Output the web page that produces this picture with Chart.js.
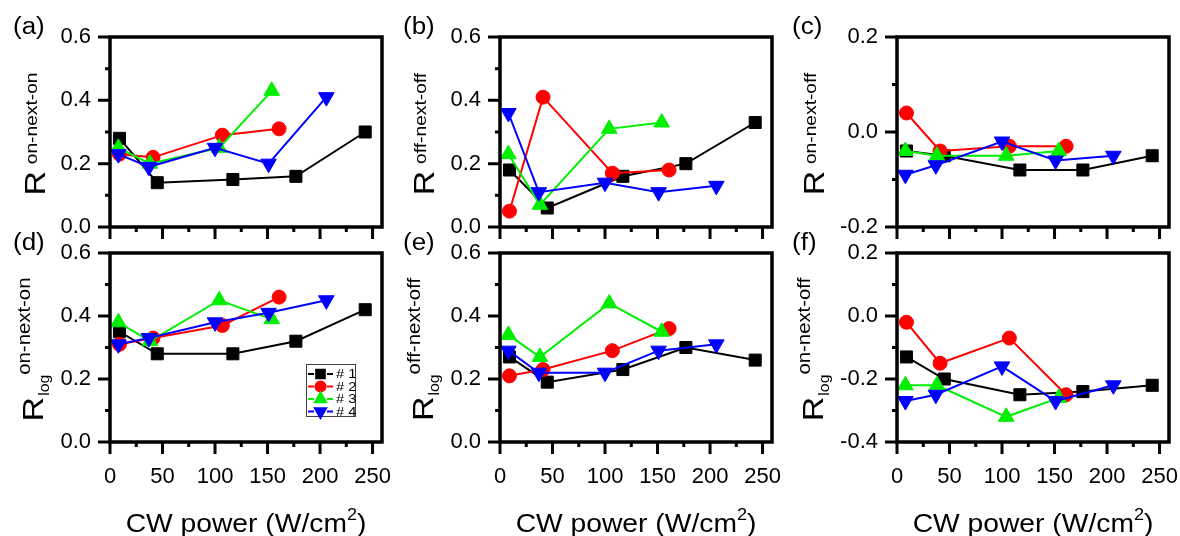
<!DOCTYPE html>
<html>
<head>
<meta charset="utf-8">
<script src="https://cdn.jsdelivr.net/npm/chart.js@4.4.1/dist/chart.umd.min.js"></script>
<style>
  html, body { margin: 0; padding: 0; background: #fff; }
  #wrap { position: relative; width: 1180px; height: 536px; overflow: hidden; }
  #wrap canvas { position: absolute; left: 0; top: 0; }
</style>
</head>
<body>
<div id="wrap">
  <canvas id="pa" width="1180" height="536"></canvas>
  <canvas id="pb" width="1180" height="536"></canvas>
  <canvas id="pc" width="1180" height="536"></canvas>
  <canvas id="pd" width="1180" height="536"></canvas>
  <canvas id="pe" width="1180" height="536"></canvas>
  <canvas id="pf" width="1180" height="536"></canvas>
</div>
<script>
// CW power (W/cm2) for each sample
const sampleNames = ["# 1", "# 2", "# 3", "# 4"];
const powerS1 = [9, 45, 117, 177, 243];
const powerS2 = [9, 41, 107, 161];
const powerS3 = [8, 38, 104, 154];
const powerS4 = [8, 37, 100, 151, 206];

// (a) R on-next-on
const aS1 = [0.28, 0.14, 0.15, 0.16, 0.30];
const aS2 = [0.23, 0.22, 0.29, 0.31];
const aS3 = [0.25, 0.20, 0.25, 0.43];
const aS4 = [0.23, 0.19, 0.25, 0.20, 0.41];
// (b) R off-next-off
const bS1 = [0.18, 0.06, 0.16, 0.20, 0.33];
const bS2 = [0.05, 0.41, 0.17, 0.18];
const bS3 = [0.23, 0.07, 0.31, 0.33];
const bS4 = [0.36, 0.11, 0.14, 0.11, 0.13];
// (c) R on-next-off
const cS1 = [-0.04, -0.05, -0.08, -0.08, -0.05];
const cS2 = [0.04, -0.04, -0.03, -0.03];
const cS3 = [-0.04, -0.05, -0.05, -0.04];
const cS4 = [-0.09, -0.07, -0.02, -0.06, -0.05];
// (d) Rlog on-next-on
const dS1 = [0.35, 0.28, 0.28, 0.32, 0.42];
const dS2 = [0.31, 0.33, 0.37, 0.46];
const dS3 = [0.38, 0.32, 0.45, 0.39];
const dS4 = [0.31, 0.33, 0.38, 0.41, 0.45];
// (e) Rlog off-next-off
const eS1 = [0.27, 0.19, 0.23, 0.30, 0.26];
const eS2 = [0.21, 0.23, 0.29, 0.36];
const eS3 = [0.34, 0.27, 0.44, 0.35];
const eS4 = [0.29, 0.22, 0.22, 0.29, 0.31];
// (f) Rlog on-next-off
const fS1 = [-0.13, -0.20, -0.25, -0.24, -0.22];
const fS2 = [-0.02, -0.15, -0.07, -0.25];
const fS3 = [-0.22, -0.22, -0.32, -0.26];
const fS4 = [-0.27, -0.25, -0.16, -0.27, -0.22];

const xMajor = [0, 50, 100, 150, 200, 250];
const xMinor = [25, 75, 125, 175, 225];
const yMajorPos = [0, 0.2, 0.4, 0.6];
const yMinorPos = [0.1, 0.3, 0.5];
const yMajorC = [-0.2, 0, 0.2];
const yMinorC = [-0.1, 0.1];
const yMajorF = [-0.4, -0.2, 0, 0.2];
const yMinorF = [-0.3, -0.1, 0.1];

const FONT = '"Liberation Sans", Arial, sans-serif';
const STRETCH = 1.13;

const styles = [
  { color: "#000000", pointStyle: "rect", radius: 8.5, rotation: 0 },
  { color: "#ff0000", pointStyle: "circle", radius: 7, rotation: 0 },
  { color: "#00ee00", pointStyle: "triangle", radius: 9, rotation: 0 },
  { color: "#0000ff", pointStyle: "triangle", radius: 9, rotation: 180 },
];
const powers = [powerS1, powerS2, powerS3, powerS4];

function tickLabel(v) {
  if (Math.abs(v) < 1e-9) return "0.0";
  return v.toFixed(1);
}

function drawStretched(ctx, text, x, y, size) {
  ctx.save();
  ctx.translate(x, y);
  ctx.scale(STRETCH, 1);
  ctx.font = `${size}px ${FONT}`;
  ctx.fillText(text, 0, 0);
  ctx.restore();
}

// rotated y-axis title: R, optional "log" subscript, superscript label
function drawYTitle(ctx, o, chartArea) {
  ctx.save();
  const parts = [{ text: "R", size: 30, dy: 0, gap: 0 }];
  if (o.log) {
    parts.push({ text: "log", size: 14, dy: 6, gap: 1 });
    parts.push({ text: o.sup, size: 18, dy: -13, gap: 0 });
  } else {
    parts.push({ text: o.sup, size: 17, dy: -8, gap: 6 });
  }
  let total = 0;
  parts.forEach((p) => {
    ctx.font = `${p.size}px ${FONT}`;
    p.w = ctx.measureText(p.text).width;
    p.tx = total + p.gap;
    total = p.tx + p.w;
  });
  const cy = (chartArea.top + chartArea.bottom) / 2 + 2;
  ctx.translate(o.titleX, cy + (total * STRETCH) / 2);
  ctx.rotate(-Math.PI / 2);
  ctx.scale(STRETCH, 1);
  ctx.textBaseline = "alphabetic";
  ctx.textAlign = "left";
  parts.forEach((p) => {
    ctx.font = `${p.size}px ${FONT}`;
    ctx.fillText(p.text, p.tx, p.dy);
  });
  ctx.restore();
}

function drawLegend(ctx) {
  ctx.save();
  ctx.strokeStyle = "#444";
  ctx.lineWidth = 1;
  ctx.strokeRect(306.5, 364.5, 49, 52);
  styles.forEach((s, i) => {
    const y = 374 + i * 12.5;
    ctx.strokeStyle = s.color;
    ctx.fillStyle = s.color;
    ctx.lineWidth = 2;
    ctx.beginPath();
    ctx.moveTo(308, y);
    ctx.lineTo(314, y);
    ctx.moveTo(327, y);
    ctx.lineTo(333, y);
    ctx.stroke();
    Chart.helpers.drawPoint(ctx, {
      pointStyle: s.pointStyle,
      radius: s.radius * 0.72,
      rotation: s.rotation,
      borderWidth: 1,
    }, 320.5, y);
    ctx.fillStyle = "#000";
    ctx.textBaseline = "middle";
    drawStretched(ctx, sampleNames[i], 336, y + 0.5, 13);
  });
  ctx.restore();
}

const panelDecor = {
  id: "panelDecor",
  afterDraw(chart, args, o) {
    const ctx = chart.ctx;
    const area = chart.chartArea;
    const { left, right, top, bottom } = area;
    const xs = chart.scales.x;
    const ys = chart.scales.y;
    ctx.save();
    ctx.strokeStyle = "#000";
    ctx.fillStyle = "#000";

    // outward tick marks
    ctx.lineWidth = 3;
    ctx.beginPath();
    xMajor.forEach((v) => {
      const px = xs.getPixelForValue(v);
      ctx.moveTo(px, bottom);
      ctx.lineTo(px, bottom + 12);
    });
    xMinor.forEach((v) => {
      const px = xs.getPixelForValue(v);
      ctx.moveTo(px, bottom);
      ctx.lineTo(px, bottom + 5);
    });
    o.yMajor.forEach((v) => {
      const py = ys.getPixelForValue(v);
      ctx.moveTo(left, py);
      ctx.lineTo(left - 12, py);
    });
    o.yMinor.forEach((v) => {
      const py = ys.getPixelForValue(v);
      ctx.moveTo(left, py);
      ctx.lineTo(left - 5, py);
    });
    ctx.stroke();

    ctx.lineWidth = 3.5;
    ctx.strokeRect(left, top, right - left, bottom - top);

    // panel letter
    ctx.textBaseline = "alphabetic";
    ctx.textAlign = "left";
    drawStretched(ctx, o.letter, o.letterX, top - 3, 23);

    drawYTitle(ctx, o, area);

    if (o.xTitle) {
      const main = "CW power (W/cm";
      ctx.font = `25px ${FONT}`;
      const w1 = ctx.measureText(main).width;
      ctx.font = `16px ${FONT}`;
      const w2 = ctx.measureText("2").width;
      ctx.font = `25px ${FONT}`;
      const w3 = ctx.measureText(")").width;
      const total = (w1 + w2 + w3) * STRETCH;
      const x0 = (left + right) / 2 - total / 2;
      drawStretched(ctx, main, x0, 532, 25);
      drawStretched(ctx, "2", x0 + w1 * STRETCH, 520, 16);
      drawStretched(ctx, ")", x0 + (w1 + w2) * STRETCH, 532, 25);
    }

    if (o.legend) drawLegend(ctx);
    ctx.restore();
  },
};

function makePanel(id, g) {
  const datasets = styles.map((s, i) => ({
    label: sampleNames[i],
    data: powers[i].map((x, j) => ({ x, y: g.values[i][j] })),
    showLine: true,
    borderColor: s.color,
    backgroundColor: s.color,
    borderWidth: 2,
    pointStyle: s.pointStyle,
    pointRadius: s.radius,
    pointRotation: s.rotation,
    pointBorderWidth: 1,
    pointBorderColor: s.color,
    pointBackgroundColor: s.color,
    tension: 0,
    order: 3 - i,
  }));

  return new Chart(document.getElementById(id), {
    type: "scatter",
    data: { datasets },
    plugins: [panelDecor],
    options: {
      responsive: false,
      animation: false,
      events: [],
      devicePixelRatio: 1,
      layout: {
        padding: {
          left: g.L - 110,
          right: 1180 - g.R,
          top: g.T,
          bottom: 536 - g.B - 60,
        },
      },
      plugins: {
        legend: { display: false },
        tooltip: { enabled: false },
        panelDecor: {
          letter: g.letter,
          letterX: g.letterX,
          titleX: g.titleX,
          sup: g.sup,
          log: g.log,
          yMajor: g.yMajor,
          yMinor: g.yMinor,
          xTitle: g.bottomRow,
          legend: g.legend,
        },
      },
      scales: {
        x: {
          type: "linear",
          min: 0,
          max: 259,
          grid: { display: false, drawTicks: false },
          border: { display: false },
          ticks: {
            display: g.bottomRow,
            stepSize: 50,
            includeBounds: false,
            autoSkip: false,
            maxRotation: 0,
            padding: 22,
            color: "#000",
            font: { family: FONT, size: 22 },
          },
          afterFit(s) {
            s.height = 60;
            s.paddingLeft = 0;
            s.paddingRight = 0;
          },
        },
        y: {
          min: g.yMin,
          max: g.yMax,
          grid: { display: false, drawTicks: false },
          border: { display: false },
          ticks: {
            stepSize: 0.2,
            includeBounds: false,
            padding: 19,
            color: "#000",
            font: { family: FONT, size: 22 },
            callback: (v) => tickLabel(v),
          },
          afterFit(s) {
            s.width = 110;
            s.paddingTop = 0;
            s.paddingBottom = 0;
          },
        },
      },
    },
  });
}

const colL = [110, 500, 897];
const colR = [382, 772, 1169];
const rowT = [37, 253];
const rowB = [227, 442];

makePanel("pa", {
  L: colL[0], R: colR[0], T: rowT[0], B: rowB[0],
  values: [aS1, aS2, aS3, aS4], yMin: 0, yMax: 0.6,
  yMajor: yMajorPos, yMinor: yMinorPos,
  letter: "(a)", letterX: colL[0] - 97, titleX: colL[0] - 65,
  sup: "on-next-on", log: false, bottomRow: false, legend: false,
});
makePanel("pb", {
  L: colL[1], R: colR[1], T: rowT[0], B: rowB[0],
  values: [bS1, bS2, bS3, bS4], yMin: 0, yMax: 0.6,
  yMajor: yMajorPos, yMinor: yMinorPos,
  letter: "(b)", letterX: colL[1] - 97, titleX: colL[1] - 66,
  sup: "off-next-off", log: false, bottomRow: false, legend: false,
});
makePanel("pc", {
  L: colL[2], R: colR[2], T: rowT[0], B: rowB[0],
  values: [cS1, cS2, cS3, cS4], yMin: -0.2, yMax: 0.2,
  yMajor: yMajorC, yMinor: yMinorC,
  letter: "(c)", letterX: colL[2] - 105, titleX: colL[2] - 73,
  sup: "on-next-off", log: false, bottomRow: false, legend: false,
});
makePanel("pd", {
  L: colL[0], R: colR[0], T: rowT[1], B: rowB[1],
  values: [dS1, dS2, dS3, dS4], yMin: 0, yMax: 0.6,
  yMajor: yMajorPos, yMinor: yMinorPos,
  letter: "(d)", letterX: colL[0] - 97, titleX: colL[0] - 67,
  sup: "on-next-on", log: true, bottomRow: true, legend: true,
});
makePanel("pe", {
  L: colL[1], R: colR[1], T: rowT[1], B: rowB[1],
  values: [eS1, eS2, eS3, eS4], yMin: 0, yMax: 0.6,
  yMajor: yMajorPos, yMinor: yMinorPos,
  letter: "(e)", letterX: colL[1] - 97, titleX: colL[1] - 67,
  sup: "off-next-off", log: true, bottomRow: true, legend: false,
});
makePanel("pf", {
  L: colL[2], R: colR[2], T: rowT[1], B: rowB[1],
  values: [fS1, fS2, fS3, fS4], yMin: -0.4, yMax: 0.2,
  yMajor: yMajorF, yMinor: yMinorF,
  letter: "(f)", letterX: colL[2] - 105, titleX: colL[2] - 74,
  sup: "on-next-off", log: true, bottomRow: true, legend: false,
});
</script>
</body>
</html>
